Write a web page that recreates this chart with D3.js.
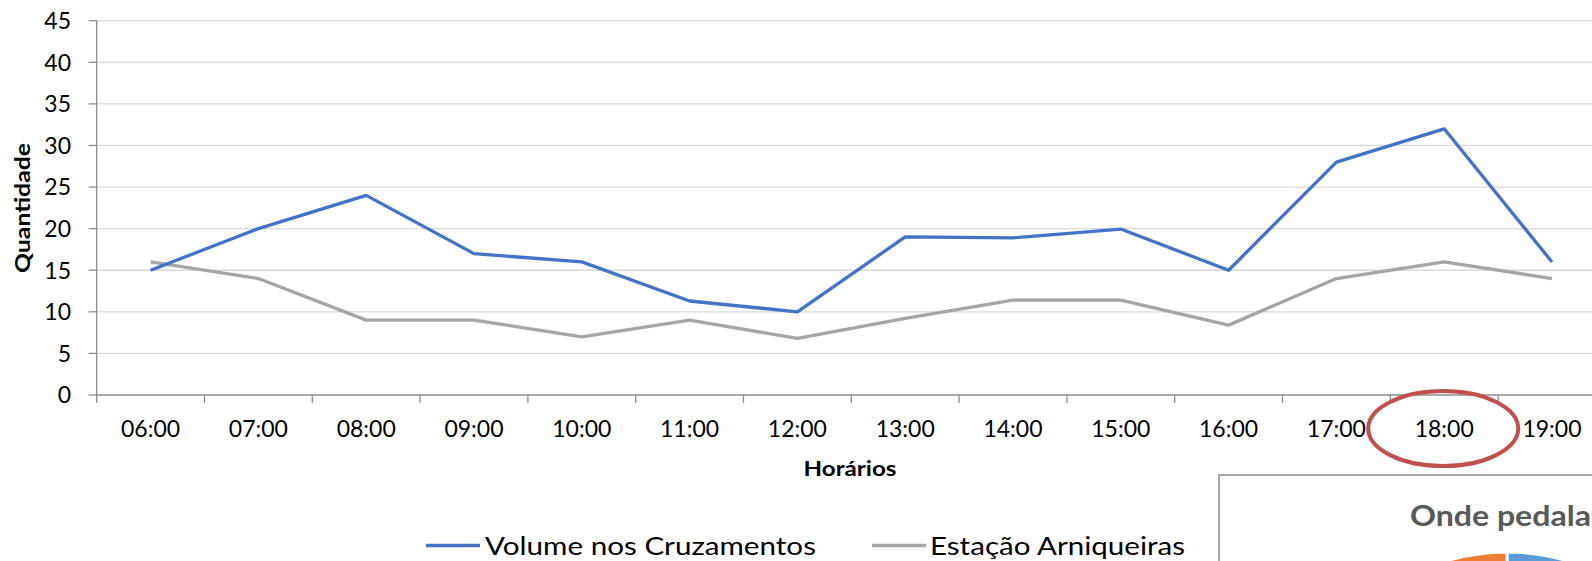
<!DOCTYPE html>
<html>
<head>
<meta charset="utf-8">
<script src="https://cdn.jsdelivr.net/npm/d3@7"></script>
<style>
  body { margin: 0; background: #fff; }
  svg { display: block; font-family: Lato, "Open Sans", sans-serif; }
</style>
</head>
<body>
<svg id="chart" width="1592" height="561"></svg>
<script>
// dados
var horarios = ["06:00","07:00","08:00","09:00","10:00","11:00","12:00","13:00","14:00","15:00","16:00","17:00","18:00","19:00"];
var volumeCruzamentos = [15, 20, 24, 17, 16, 11.3, 10, 19, 18.9, 19.95, 15, 28, 32, 16];
var estacaoArniqueiras = [16, 14, 9, 9, 7, 9, 6.8, 9.2, 11.4, 11.4, 8.4, 14, 16, 14];
var yTicks = [0, 5, 10, 15, 20, 25, 30, 35, 40, 45];
var seriesNames = ["Volume nos Cruzamentos", "Estação Arniqueiras"];
var destaque = "18:00";
var pieTitle = "Onde pedala";
var pieValues = [55, 45];

var W = 1592, H = 561;
var svg = d3.select("#chart");

// escalas
var left = 96.7, band = 107.8;
var x = d3.scaleLinear().domain([0, horarios.length]).range([left, left + band * horarios.length]);
var y = d3.scaleLinear().domain([0, 45]).range([395, 20.7]);

// grade
svg.append("g").selectAll("line.grid").data(yTicks.filter(function (d) { return d > 0; }))
  .enter().append("line")
  .attr("x1", left).attr("x2", W)
  .attr("y1", function (d) { return y(d); }).attr("y2", function (d) { return y(d); })
  .attr("stroke", "#d9d9d9").attr("stroke-width", 1.3);

// eixo y
var yAxis = svg.append("g");
yAxis.append("line").attr("x1", left).attr("x2", left).attr("y1", y(45)).attr("y2", y(0))
  .attr("stroke", "#8c8c8c").attr("stroke-width", 1.3);
yAxis.selectAll("line.tk").data(yTicks).enter().append("line")
  .attr("x1", left - 8).attr("x2", left)
  .attr("y1", function (d) { return y(d); }).attr("y2", function (d) { return y(d); })
  .attr("stroke", "#8c8c8c").attr("stroke-width", 1.3);
yAxis.selectAll("text").data(yTicks).enter().append("text")
  .attr("x", 71).attr("y", function (d) { return y(d) + 8.3; })
  .attr("text-anchor", "end").attr("font-size", 23).attr("fill", "#000")
  .text(function (d) { return d; });

// eixo x
var xAxis = svg.append("g");
xAxis.append("line").attr("x1", left).attr("x2", W).attr("y1", y(0)).attr("y2", y(0))
  .attr("stroke", "#8c8c8c").attr("stroke-width", 1.3);
xAxis.selectAll("line.tk").data(d3.range(horarios.length + 1)).enter().append("line")
  .attr("x1", function (i) { return x(i); }).attr("x2", function (i) { return x(i); })
  .attr("y1", y(0)).attr("y2", y(0) + 8)
  .attr("stroke", "#8c8c8c").attr("stroke-width", 1.3);
xAxis.selectAll("text").data(horarios).enter().append("text")
  .attr("x", function (d, i) { return x(i + 0.5); }).attr("y", 437)
  .attr("text-anchor", "middle").attr("font-size", 23).attr("fill", "#000")
  .text(function (d) { return d; });

// titulos dos eixos
svg.append("text").attr("transform", "translate(30,208) rotate(-90)")
  .attr("text-anchor", "middle").attr("font-size", 21).attr("font-weight", "bold")
  .attr("textLength", 130).attr("lengthAdjust", "spacingAndGlyphs")
  .text("Quantidade");
svg.append("text").attr("x", 850).attr("y", 476)
  .attr("text-anchor", "middle").attr("font-size", 21).attr("font-weight", "bold")
  .attr("textLength", 93).attr("lengthAdjust", "spacingAndGlyphs")
  .text("Horários");

// linhas
var cores = ["#4472c4", "#a5a5a5"];
var line = d3.line()
  .x(function (d, i) { return x(i + 0.5); })
  .y(function (d) { return y(d); });
[estacaoArniqueiras, volumeCruzamentos].forEach(function (serie, k) {
  svg.append("path").datum(serie)
    .attr("d", line)
    .attr("fill", "none")
    .attr("stroke", cores[1 - k])
    .attr("stroke-width", 3.3)
    .attr("stroke-linejoin", "round");
});

// legenda
var legend = [
  { name: seriesNames[0], color: cores[0], x0: 426, tx: 485, len: 331 },
  { name: seriesNames[1], color: cores[1], x0: 872, tx: 930, len: 255 }
];
var lg = svg.append("g").selectAll("g").data(legend).enter().append("g");
lg.append("line")
  .attr("x1", function (d) { return d.x0; }).attr("x2", function (d) { return d.x0 + 54; })
  .attr("y1", 545.5).attr("y2", 545.5)
  .attr("stroke", function (d) { return d.color; }).attr("stroke-width", 3.3);
lg.append("text")
  .attr("x", function (d) { return d.tx; }).attr("y", 555)
  .attr("font-size", 25.5).attr("fill", "#000")
  .attr("textLength", function (d) { return d.len; }).attr("lengthAdjust", "spacingAndGlyphs")
  .text(function (d) { return d.name; });

// destaque 18:00
var iD = horarios.indexOf(destaque);
svg.append("ellipse")
  .attr("cx", x(iD + 0.5) - 1).attr("cy", 428.6)
  .attr("rx", 75).attr("ry", 37.5)
  .attr("fill", "none").attr("stroke", "#c0504d").attr("stroke-width", 4);

// grafico de pizza (cortado)
var box = svg.append("g");
box.append("rect").attr("x", 1219).attr("y", 475).attr("width", 400).attr("height", 120)
  .attr("fill", "#fff").attr("stroke", "#8c8c8c").attr("stroke-width", 1.5);
box.append("text").attr("x", 1410).attr("y", 526)
  .attr("font-size", 29).attr("font-weight", "bold").attr("fill", "#595959")
  .attr("textLength", 181).attr("lengthAdjust", "spacingAndGlyphs")
  .text(pieTitle);
var R = 210;
var arcs = d3.pie().sort(null)(pieValues);
var arc = d3.arc().innerRadius(0).outerRadius(R);
box.append("g").attr("transform", "translate(1507," + (552 + R) + ")")
  .selectAll("path").data(arcs).enter().append("path")
  .attr("d", arc)
  .attr("fill", function (d, i) { return ["#5b9bd5", "#ed7d31"][i]; })
  .attr("stroke", "#fff").attr("stroke-width", 3);
</script>
</body>
</html>
